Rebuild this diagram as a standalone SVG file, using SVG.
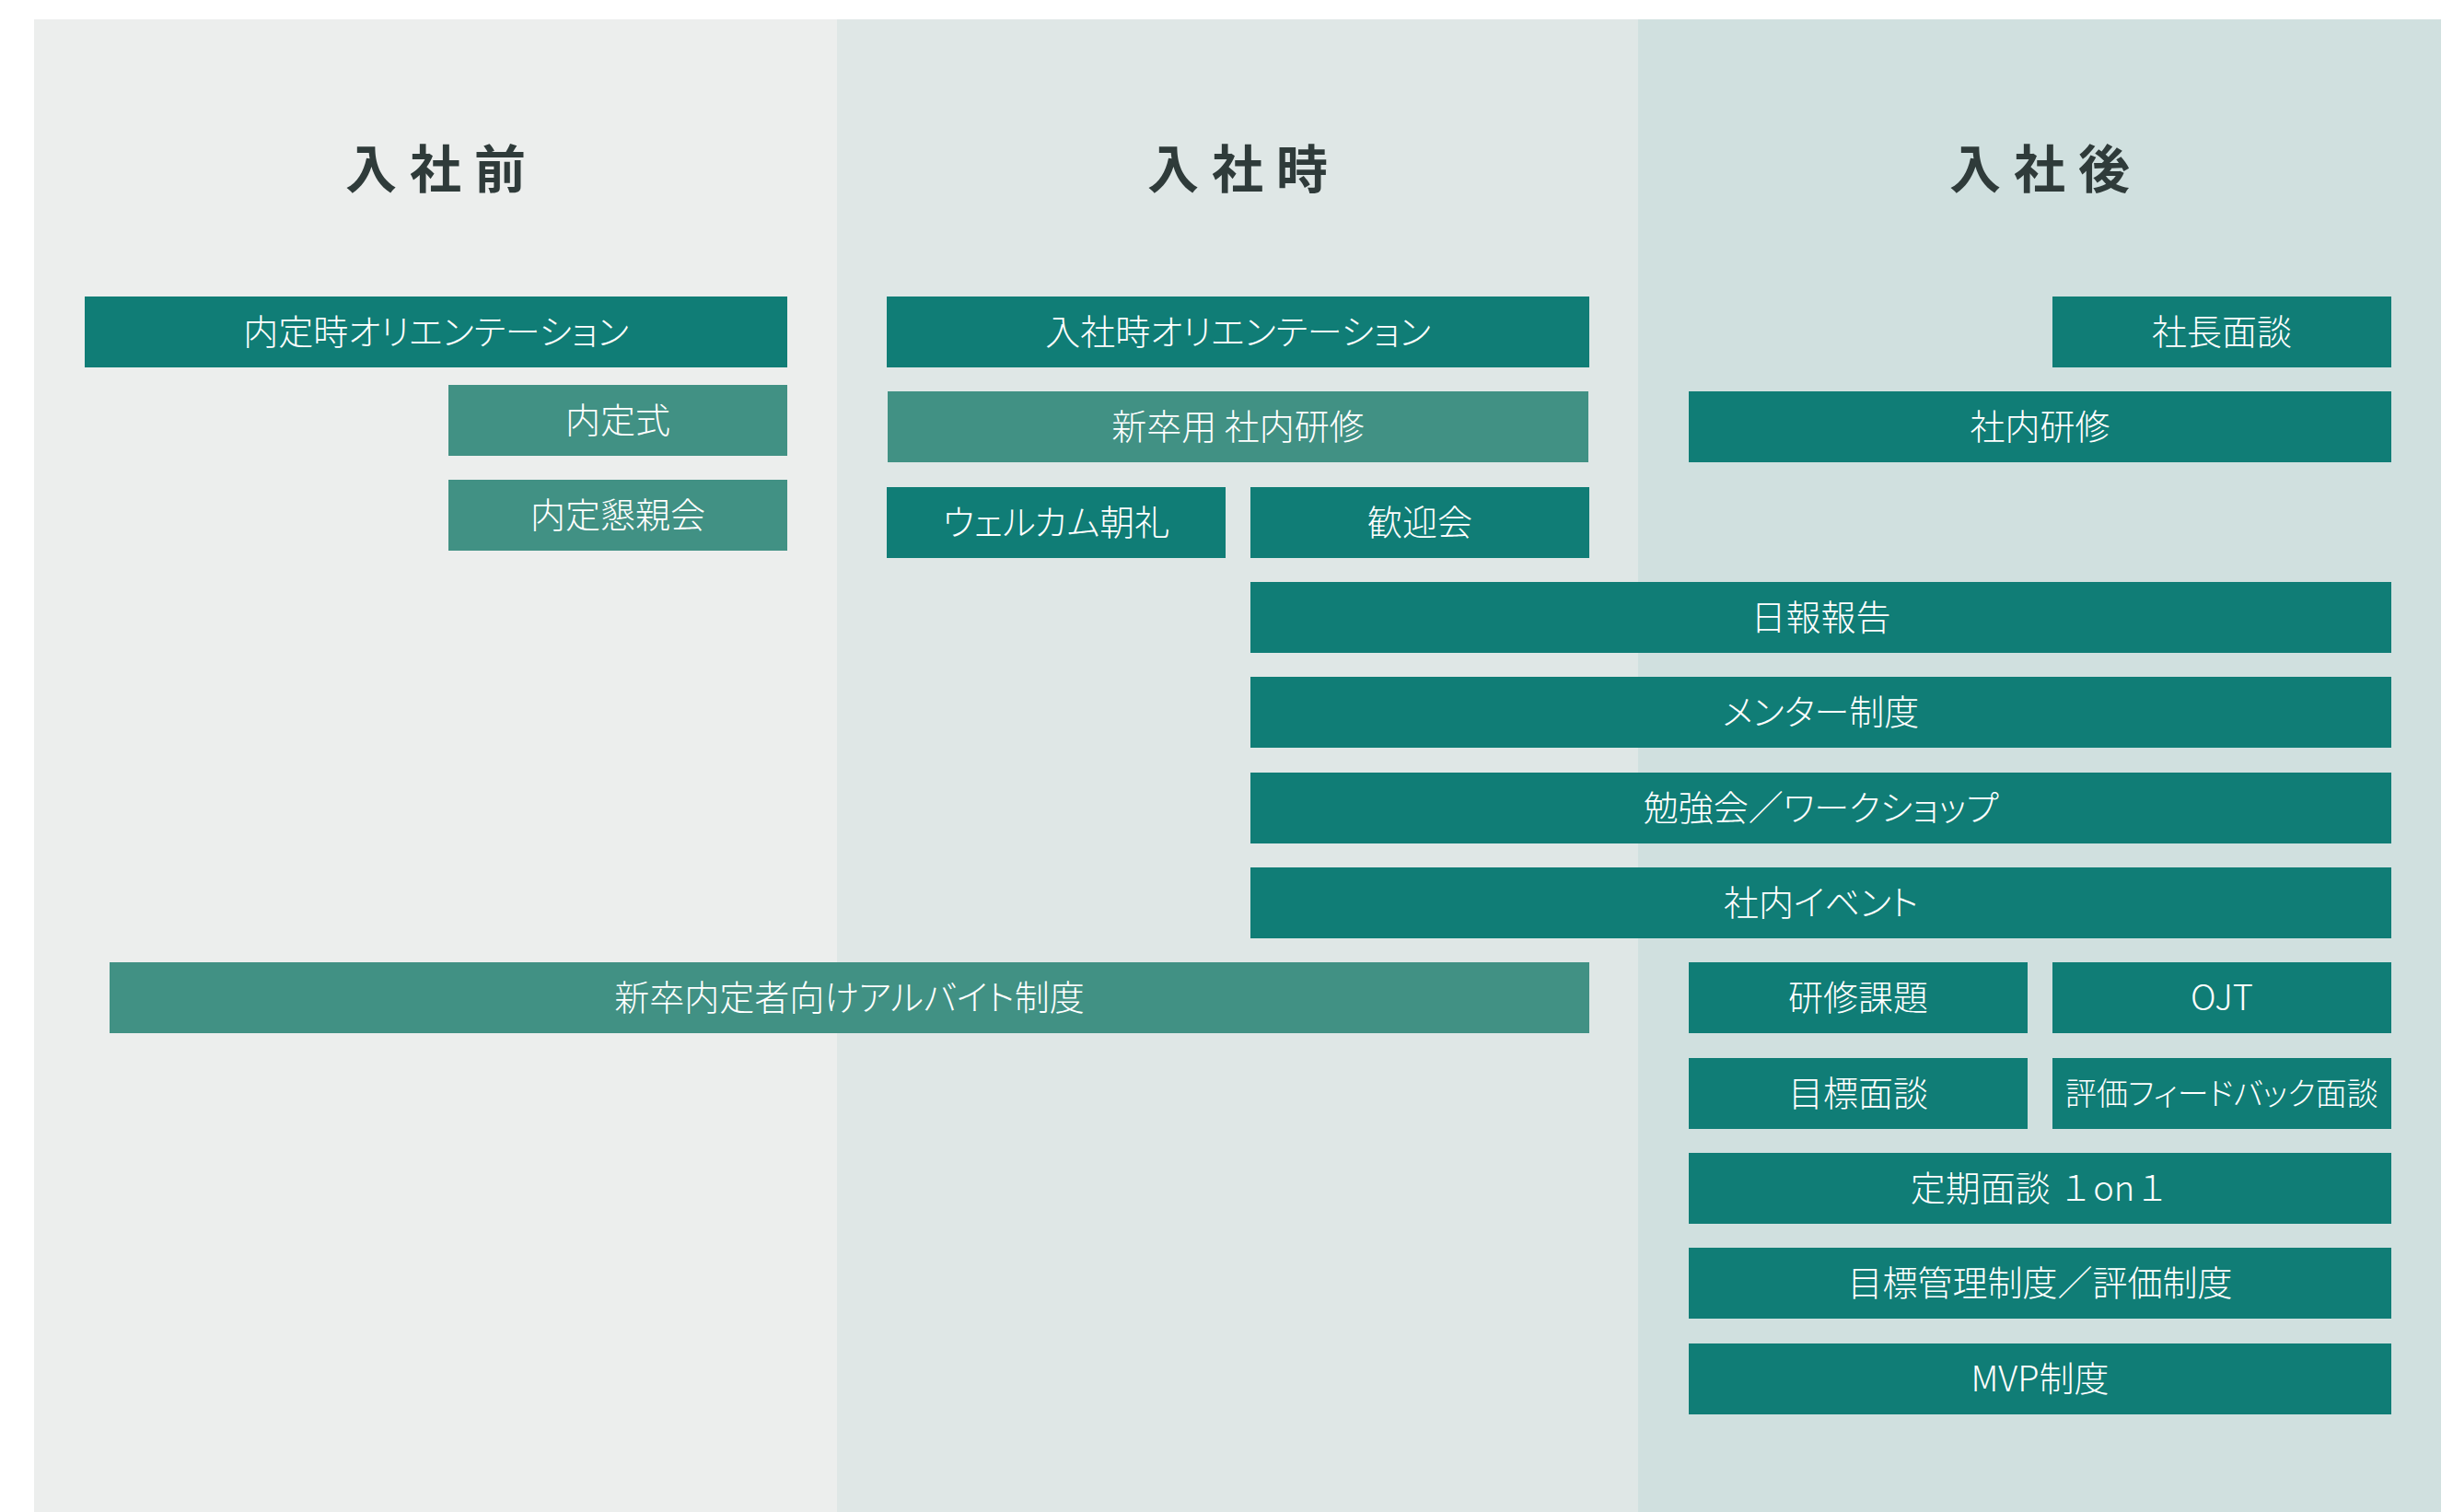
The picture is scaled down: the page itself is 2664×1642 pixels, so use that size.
<svg xmlns="http://www.w3.org/2000/svg" width="2664" height="1642" viewBox="0 0 2664 1642">
<style>
.dk{fill:#107d76}
.lt{fill:#419184}
.lb{font-family:"Noto Sans CJK JP","Noto Sans",sans-serif;font-size:38px;fill:#ffffff;text-anchor:middle;font-weight:300}
.kp{font-feature-settings:"palt"}
.tt{font-family:"Noto Sans CJK JP","Noto Sans",sans-serif;font-size:56px;fill:#2f3b3a;text-anchor:middle;font-weight:700;letter-spacing:14px}
</style>
<rect width="2664" height="1642" fill="#ffffff"/>
<g id="columns">
<rect x="37" y="21" width="872" height="1621" fill="#eceeed"/>
<rect x="909" y="21" width="870" height="1621" fill="#dfe7e6"/>
<rect x="1779" y="21" width="872" height="1621" fill="#d0e0df"/>
</g>
<g id="titles">
<text class="tt" x="480" y="204">入社前</text>
<text class="tt" x="1351" y="204">入社時</text>
<text class="tt" x="2222" y="204">入社後</text>
</g>
<g id="connectors"></g>
<g id="n1"><rect class="dk" x="92" y="322" width="763" height="77"/><text class="lb kp" x="473.5" y="374">内定時オリエンテーション</text></g>
<g id="n2"><rect class="lt" x="487" y="418" width="368" height="77"/><text class="lb" x="671" y="470">内定式</text></g>
<g id="n3"><rect class="lt" x="487" y="521" width="368" height="77"/><text class="lb" x="671" y="573">内定懇親会</text></g>
<g id="n4"><rect class="dk" x="963" y="322" width="763" height="77"/><text class="lb kp" x="1344.5" y="374">入社時オリエンテーション</text></g>
<g id="n5"><rect class="lt" x="964" y="425" width="761" height="77"/><text class="lb" x="1344.5" y="477">新卒用 社内研修</text></g>
<g id="n6"><rect class="dk" x="963" y="529" width="368" height="77"/><text class="lb kp" x="1147" y="581">ウェルカム朝礼</text></g>
<g id="n7"><rect class="dk" x="1358" y="529" width="368" height="77"/><text class="lb" x="1542" y="581">歓迎会</text></g>
<g id="n8"><rect class="dk" x="1358" y="632" width="1239" height="77"/><text class="lb" x="1977.5" y="684">日報報告</text></g>
<g id="n9"><rect class="dk" x="1358" y="735" width="1239" height="77"/><text class="lb kp" x="1977.5" y="787">メンター制度</text></g>
<g id="n10"><rect class="dk" x="1358" y="839" width="1239" height="77"/><text class="lb kp" x="1977.5" y="891">勉強会／ワークショップ</text></g>
<g id="n11"><rect class="dk" x="1358" y="942" width="1239" height="77"/><text class="lb kp" x="1977.5" y="994">社内イベント</text></g>
<g id="n12"><rect class="lt" x="119" y="1045" width="1607" height="77"/><text class="lb kp" x="922.5" y="1097">新卒内定者向けアルバイト制度</text></g>
<g id="n13"><rect class="dk" x="2229" y="322" width="368" height="77"/><text class="lb" x="2413" y="374">社長面談</text></g>
<g id="n14"><rect class="dk" x="1834" y="425" width="763" height="77"/><text class="lb" x="2215.5" y="477">社内研修</text></g>
<g id="n15"><rect class="dk" x="1834" y="1045" width="368" height="77"/><text class="lb" x="2018" y="1097">研修課題</text></g>
<g id="n16"><rect class="dk" x="2229" y="1045" width="368" height="77"/><text class="lb" x="2413" y="1097">OJT</text></g>
<g id="n17"><rect class="dk" x="1834" y="1149" width="368" height="77"/><text class="lb" x="2018" y="1201">目標面談</text></g>
<g id="n18"><rect class="dk" x="2229" y="1149" width="368" height="77"/><text class="lb kp" x="2413" y="1200" style="font-size:34px">評価フィードバック面談</text></g>
<g id="n19"><rect class="dk" x="1834" y="1252" width="763" height="77"/><text class="lb" x="2215.5" y="1304">定期面談 １on１</text></g>
<g id="n20"><rect class="dk" x="1834" y="1355" width="763" height="77"/><text class="lb" x="2215.5" y="1407">目標管理制度／評価制度</text></g>
<g id="n21"><rect class="dk" x="1834" y="1459" width="763" height="77"/><text class="lb" x="2215.5" y="1511">MVP制度</text></g>
</svg>
